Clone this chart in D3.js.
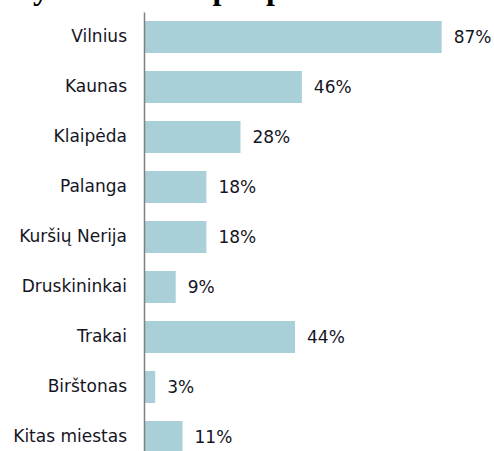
<!DOCTYPE html>
<html>
<head>
<meta charset="utf-8">
<script src="https://cdn.jsdelivr.net/npm/d3@7"></script>
<style>
  body { margin: 0; background: #fff; }
  svg { display: block; }
</style>
</head>
<body>
<div id="chart"></div>
<script>
let title = "Lankytos vietovės per pastaruosius metus"
let categories = ["Vilnius", "Kaunas", "Klaipėda", "Palanga", "Kuršių Nerija",
    "Druskininkai", "Trakai", "Birštonas", "Kitas miestas"]
let values = [87, 46, 28, 18, 18, 9, 44, 3, 11]

var width = 494, height = 451

var svg = d3.select("#chart")
    .append("svg")
    .attr("width", width)
    .attr("height", height)

// title is cut off at the top, only the descenders show
svg.append("text")
    .attr("x", -40)
    .attr("y", -1)
    .attr("font-family", "Liberation Serif")
    .attr("font-weight", "bold")
    .attr("font-size", 32)
    .attr("fill", "#000")
    .text(title)

var x = d3.scaleLinear().domain([0, 100]).range([145, 486])
var y = d3.scaleBand().domain(categories).range([12, 462])
    .paddingInner(0.36).paddingOuter(0.18)

svg.selectAll(".bar")
    .data(values)
    .enter()
    .append("rect")
    .attr("class", "bar")
    .attr("x", x(0))
    .attr("y", (d, i) => y(categories[i]))
    .attr("width", d => x(d) - x(0))
    .attr("height", y.bandwidth())
    .attr("fill", "#a9cfd8")

svg.selectAll(".val")
    .data(values)
    .enter()
    .append("text")
    .attr("class", "val")
    .attr("x", d => x(d) + 12)
    .attr("y", (d, i) => y(categories[i]) + y.bandwidth() / 2)
    .attr("dy", "0.36em")
    .attr("font-family", "DejaVu Sans")
    .attr("font-size", 17)
    .attr("fill", "#15151f")
    .text(d => d + "%")

var axis = svg.append("g")
    .attr("transform", "translate(" + (x(0) - 1) + ",0)")
    .call(d3.axisLeft(y).tickSize(0).tickPadding(17))

axis.select(".domain").attr("stroke", "#808080").attr("stroke-width", 1.5)
axis.selectAll("text")
    .attr("font-family", "DejaVu Sans")
    .attr("font-size", 17)
    .attr("fill", "#15151f")
</script>
</body>
</html>
